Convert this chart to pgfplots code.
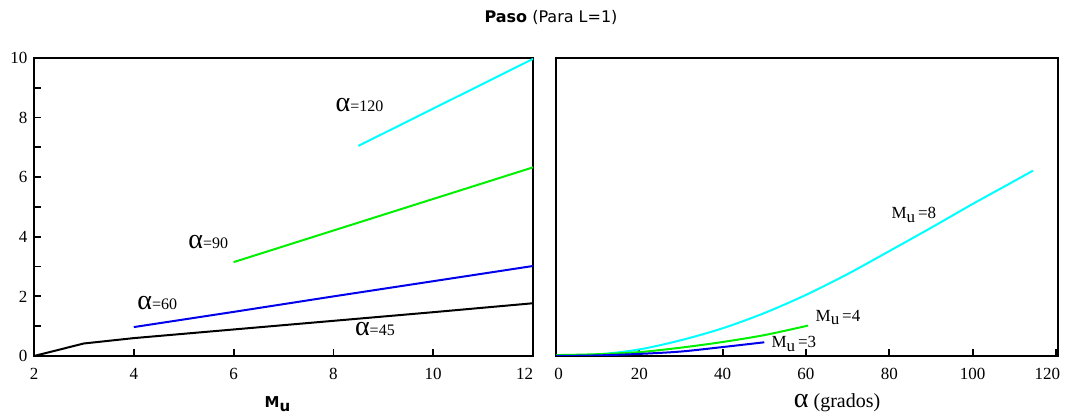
\documentclass[border=0pt]{standalone}
\usepackage{pgfplots}
\pgfplotsset{compat=1.18}
\usepackage{fontspec}
\setmainfont{Liberation Serif}
\newfontfamily\dejavu{DejaVu Sans}
\definecolor{pcyan}{RGB}{0,255,255}
\definecolor{pgreen}{RGB}{0,240,0}
\definecolor{pblue}{RGB}{0,0,235}
\newcommand{\al}{{\fontsize{28}{28}\selectfont α}}
\newcommand{\lab}[1]{\fontsize{16}{16}\selectfont\al{}#1}
\newcommand{\mlab}[1]{\fontsize{17}{17}\selectfont M\raisebox{-0.45ex}{u}\,=#1}
\begin{document}
\begin{tikzpicture}[x=1pt,y=1pt]
\useasboundingbox (0,0) rectangle (1068,419);
\pgfplotsset{
  panel/.style={
    scale only axis, width=500pt, height=298pt,
    ymin=0, ymax=10,
    tick align=inside,
    xtick pos=bottom, ytick pos=left,
    axis line style={line width=2.2pt},
    every tick/.style={line width=1.8pt, black},
    major tick length=7pt, minor tick length=7pt,
    tick label style={font=\fontsize{17}{17}\selectfont},
    /pgf/number format/assume math mode=true,
    xticklabel style={yshift=-9pt},
    yticklabel style={xshift=-3pt},
    every axis plot/.append style={line width=2pt},
  }
}
\begin{axis}[panel,
  at={(34pt,63pt)}, anchor=south west, width=499pt,
  xmin=2, xmax=12,
  xtick={2,4,...,12}, ytick={0,2,...,10},
  xticklabels={2,4,6,8,10,{12\kern17pt}},
  minor ytick={1,3,...,9},
  xlabel={\dejavu\bfseries\fontsize{15}{15}\selectfont M\raisebox{-0.4ex}{u}},
  xlabel style={at={(axis description cs:0.488,0)}, anchor=base, yshift=-52pt},
]
\addplot[black] coordinates {(2,0) (3,0.42) (4,0.6) (6,0.89) (8,1.18) (10,1.47) (12,1.77)};
\addplot[pblue] coordinates {(4,0.97) (6,1.48) (8,2.0) (10,2.51) (12,3.02)};
\addplot[pgreen] coordinates {(6,3.15) (8,4.21) (10,5.27) (12,6.33)};
\addplot[pcyan] coordinates {(8.5,7.05) (12,9.97)};
\node[anchor=base west, inner sep=0] at (axis cs:8.04,8.2) {\lab{=120}};
\node[anchor=base west, inner sep=0] at (axis cs:5.09,3.6) {\lab{=90}};
\node[anchor=base west, inner sep=0] at (axis cs:4.07,1.56) {\lab{=60}};
\node[anchor=base west, inner sep=0] at (axis cs:8.43,0.7) {\lab{=45}};
\end{axis}
\begin{axis}[panel,
  at={(556pt,63pt)}, anchor=south west,
  width=502pt,
  xmin=0, xmax=120.5,
  xtick={0,20,...,120}, ytick=\empty,
  xticklabels={{\kern5pt 0},20,40,60,80,100,{120\kern17pt}},
  xlabel={\fontsize{20}{20}\selectfont\al{} (grados)},
  xlabel style={at={(axis description cs:0.56,0)}, anchor=base, yshift=-52pt},
]
\addplot[pcyan, smooth] coordinates {(0,0) (10,0.05) (20,0.22) (30,0.53) (40,0.93) (50,1.44) (60,2.05) (70,2.75) (80,3.52) (90,4.3) (100,5.1) (110,5.87) (114.5,6.22)};
\addplot[pgreen, smooth] coordinates {(0,0.03) (10,0.06) (20,0.13) (30,0.28) (40,0.47) (50,0.7) (60.5,1.02)};
\addplot[pblue, smooth] coordinates {(0,0) (10,0.02) (20,0.07) (30,0.15) (40,0.3) (50,0.46)};
\node[anchor=base west, inner sep=0] at (axis cs:80.5,4.6) {\mlab{8}};
\node[anchor=base west, inner sep=0] at (axis cs:62.3,1.16) {\mlab{4}};
\node[anchor=base west, inner sep=0] at (axis cs:51.7,0.28) {\mlab{3}};
\end{axis}
\node[font=\dejavu\fontsize{16}{16}\selectfont] at (551,402) {\textbf{Paso} (Para L=1)};
\end{tikzpicture}
\end{document}
